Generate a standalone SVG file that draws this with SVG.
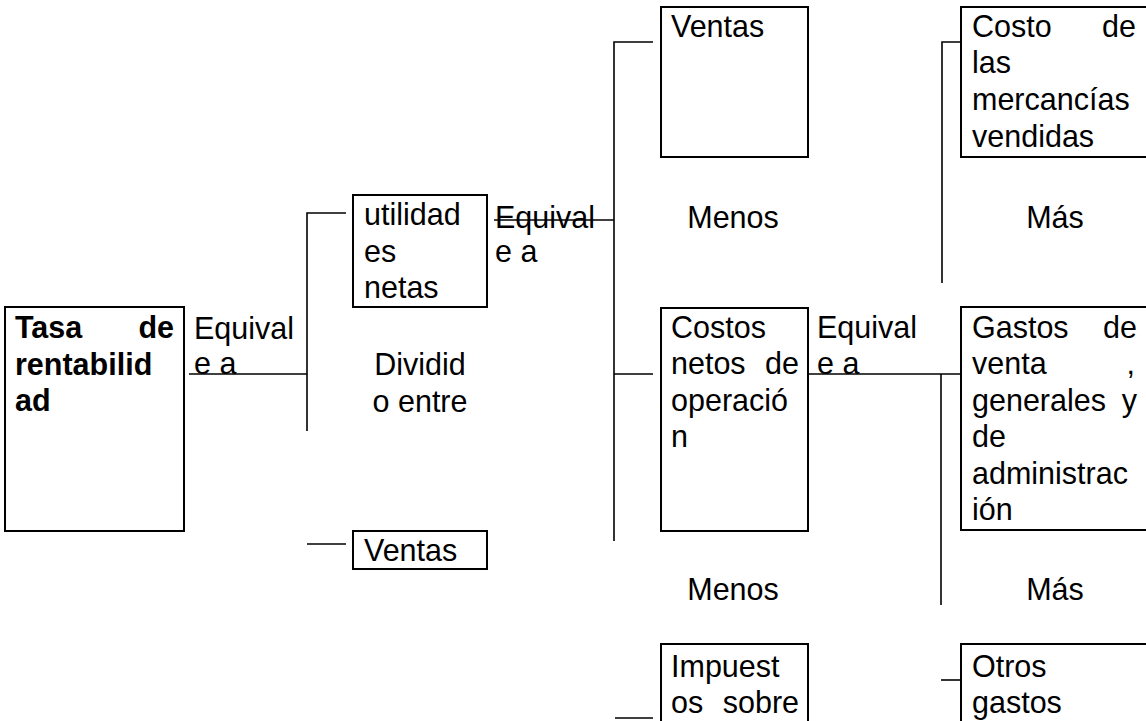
<svg xmlns="http://www.w3.org/2000/svg" width="1146" height="721" viewBox="0 0 1146 721">
<style>
.box{fill:#fff;stroke:#000;stroke-width:2}
.ln{stroke:#000;stroke-width:1.6;fill:none}
text{font-family:"Liberation Sans",Arial,sans-serif;font-size:30.5px;fill:#000}
.b{font-weight:bold}
.e{text-anchor:end}
.m{text-anchor:middle}
</style>
<rect width="1146" height="721" fill="#fff"/>
<g id="connectors">
<line class="ln" x1="189" y1="374" x2="307" y2="374"/>
<polyline class="ln" points="346,213 307,213 307,431"/>
<line class="ln" x1="307" y1="544" x2="346" y2="544"/>
<line class="ln" x1="494" y1="220" x2="614" y2="220"/>
<polyline class="ln" points="653,42 614,42 614,541"/>
<line class="ln" x1="614" y1="374" x2="653" y2="374"/>
<line class="ln" x1="615" y1="718" x2="653" y2="718"/>
<line class="ln" x1="808" y1="374" x2="961" y2="374"/>
<line class="ln" x1="941" y1="374" x2="941" y2="605"/>
<line class="ln" x1="941" y1="680" x2="961" y2="680"/>
<polyline class="ln" points="961,42 942,42 942,283"/>
</g>
<g id="labels">
<text x="194" y="339">Equival</text>
<text x="194" y="374">e a</text>
<text class="m" x="420" y="375">Dividid</text>
<text class="m" x="420" y="412">o entre</text>
<text x="495" y="228">Equival</text>
<text x="495" y="262">e a</text>
<text class="m" x="733" y="228">Menos</text>
<text class="m" x="1055" y="228">Más</text>
<text x="817" y="338">Equival</text>
<text x="817" y="374">e a</text>
<text class="m" x="733" y="600">Menos</text>
<text class="m" x="1055" y="600">Más</text>
</g>
<g id="tasa">
<rect class="box" x="5" y="307" width="179" height="224"/>
<text class="b" x="15" y="338">Tasa</text>
<text class="b e" x="174" y="338">de</text>
<text class="b" x="15" y="375">rentabilid</text>
<text class="b" x="15" y="411">ad</text>
</g>
<g id="utilidades">
<rect class="box" x="353" y="195" width="134" height="112"/>
<text x="364" y="225">utilidad</text>
<text x="364" y="262">es</text>
<text x="364" y="298">netas</text>
</g>
<g id="ventas-small">
<rect class="box" x="353" y="531" width="134" height="38"/>
<text x="364" y="561">Ventas</text>
</g>
<g id="ventas">
<rect class="box" x="661" y="7" width="147" height="150"/>
<text x="671" y="37">Ventas</text>
</g>
<g id="costos-netos">
<rect class="box" x="661" y="308" width="147" height="223"/>
<text x="671" y="338">Costos</text>
<text x="671" y="374">netos</text>
<text class="e" x="799" y="374">de</text>
<text x="671" y="411">operació</text>
<text x="671" y="447">n</text>
</g>
<g id="impuestos">
<rect class="box" x="661" y="644" width="147" height="90"/>
<text x="671" y="677">Impuest</text>
<text x="671" y="713">os</text>
<text class="e" x="799" y="713">sobre</text>
</g>
<g id="costo-mercancias">
<rect class="box" x="961" y="7" width="190" height="150"/>
<text x="972" y="37">Costo</text>
<text class="e" x="1136" y="37">de</text>
<text x="972" y="73">las</text>
<text x="972" y="110">mercancías</text>
<text x="972" y="147">vendidas</text>
</g>
<g id="gastos-venta">
<rect class="box" x="961" y="307" width="190" height="223"/>
<text x="972" y="338">Gastos</text>
<text class="e" x="1137" y="338">de</text>
<text x="972" y="374">venta</text>
<text class="e" x="1135" y="374">,</text>
<text x="972" y="411">generales</text>
<text class="e" x="1137" y="411">y</text>
<text x="972" y="447">de</text>
<text x="972" y="484">administrac</text>
<text x="972" y="520">ión</text>
</g>
<g id="otros-gastos">
<rect class="box" x="961" y="644" width="190" height="90"/>
<text x="972" y="677">Otros</text>
<text x="972" y="713">gastos</text>
</g>
</svg>
